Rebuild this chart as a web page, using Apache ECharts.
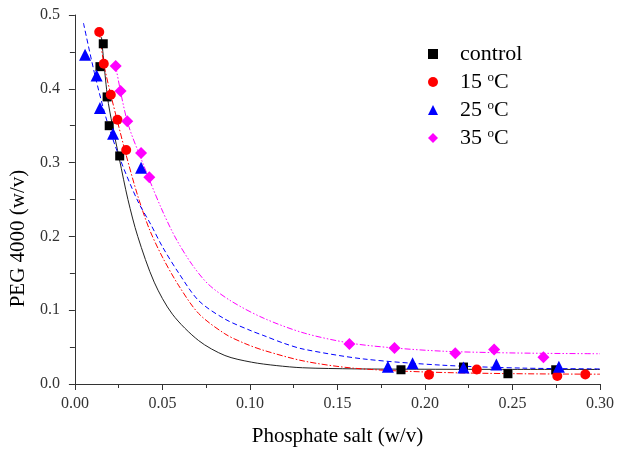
<!DOCTYPE html>
<html>
<head>
<meta charset="utf-8">
<script src="https://cdn.jsdelivr.net/npm/echarts@6/dist/echarts.min.js"></script>
<style>html,body{margin:0;padding:0;background:#fff}#c{width:617px;height:452px}</style>
</head>
<body>
<div id="c"></div>
<script>
// ---- data ----
const seriesNames = ['control', '15 °C', '25 °C', '35 °C'];

const controlX = [0.0162, 0.0143, 0.0184, 0.0196, 0.0256, 0.1863, 0.222, 0.2474, 0.2747];
const controlY = [0.461, 0.430, 0.389, 0.350, 0.309, 0.0193, 0.023, 0.0139, 0.0193];

const t15X = [0.0139, 0.0165, 0.0205, 0.0243, 0.0293, 0.2023, 0.2296, 0.2756, 0.2916];
const t15Y = [0.477, 0.434, 0.392, 0.358, 0.317, 0.0126, 0.0197, 0.0108, 0.013];

const t25X = [0.0058, 0.0124, 0.0143, 0.0218, 0.0378, 0.1788, 0.1929, 0.222, 0.2408, 0.2765];
const t25Y = [0.446, 0.418, 0.374, 0.339, 0.293, 0.0235, 0.028, 0.0225, 0.0265, 0.0235];

const t35X = [0.0233, 0.0261, 0.0299, 0.0378, 0.0425, 0.1568, 0.1826, 0.2173, 0.2395, 0.2677];
const t35Y = [0.431, 0.397, 0.356, 0.313, 0.280, 0.0543, 0.0489, 0.0417, 0.0467, 0.0363];

// fitted curves
const fitControlX = [0.0152, 0.0186, 0.0214, 0.0254, 0.0303, 0.0359, 0.0453, 0.0557, 0.0707, 0.0857, 0.1008, 0.115, 0.13, 0.16, 0.2, 0.25, 0.3];
const fitControlY = [0.470, 0.389, 0.351, 0.305, 0.250, 0.200, 0.138, 0.0946, 0.0588, 0.0386, 0.0296, 0.025, 0.022, 0.0205, 0.020, 0.0198, 0.0197];

const fit15X = [0.0140, 0.0165, 0.0205, 0.0243, 0.0293, 0.0359, 0.0425, 0.050, 0.0594, 0.0707, 0.0857, 0.097, 0.108, 0.131, 0.159, 0.2, 0.25, 0.3];
const fit15Y = [0.477, 0.434, 0.392, 0.356, 0.310, 0.255, 0.210, 0.172, 0.133, 0.0955, 0.068, 0.055, 0.0455, 0.031, 0.0215, 0.0163, 0.014, 0.0133];

const fit25X = [0.0049, 0.0115, 0.018, 0.0256, 0.0359, 0.0434, 0.05, 0.0594, 0.0707, 0.0857, 0.1008, 0.108, 0.1196, 0.131, 0.1647, 0.2098, 0.2566, 0.3];
const fit25Y = [0.489, 0.418, 0.359, 0.306, 0.248, 0.216, 0.186, 0.150, 0.113, 0.088, 0.072, 0.0655, 0.055, 0.047, 0.034, 0.0255, 0.0215, 0.0205];

const fit35X = [0.0233, 0.0299, 0.0387, 0.049, 0.0575, 0.0669, 0.0763, 0.0895, 0.108, 0.131, 0.157, 0.1816, 0.2098, 0.24, 0.27, 0.3];
const fit35Y = [0.431, 0.356, 0.300, 0.240, 0.198, 0.162, 0.135, 0.112, 0.089, 0.069, 0.0555, 0.049, 0.0445, 0.0425, 0.0415, 0.041];

// ---- build chart ----
const pairs = (xs, ys) => xs.map((x, i) => [x, ys[i]]);
const FONT = '"Liberation Serif", "Times New Roman", serif';

function scatter(name, xs, ys, symbol, size, color) {
  return { name, type: 'scatter', data: pairs(xs, ys), symbol, symbolSize: size,
    itemStyle: { color, opacity: 1 }, z: 5 };
}
function fit(name, xs, ys, color, type) {
  return { name, type: 'line', data: pairs(xs, ys), showSymbol: false, symbol: 'none',
    smooth: 0.3, silent: true, z: 3,
    lineStyle: { color, width: 1, type } };
}

const chart = echarts.init(document.getElementById('c'), null, { renderer: 'canvas' });
chart.setOption({
  animation: false,
  backgroundColor: '#fff',
  grid: { left: 68, right: 17, top: 15, bottom: 65, containLabel: false },
  legend: {
    data: seriesNames,
    orient: 'vertical',
    left: 423, top: 38,
    itemWidth: 10, itemHeight: 10, itemGap: 6,
    textStyle: {
      fontFamily: FONT, fontSize: 22, color: '#000', lineHeight: 22, padding: [0, 0, 0, 17],
      rich: { sup: { fontFamily: FONT, fontSize: 13, color: '#000', verticalAlign: 'top', lineHeight: 13 } }
    },
    formatter: n => n.replace('°', '{sup|o}')
  },
  xAxis: {
    type: 'value', min: 0, max: 0.3, interval: 0.05,
    name: 'Phosphate salt (w/v)', nameLocation: 'middle', nameGap: 42,
    nameTextStyle: { fontFamily: FONT, fontSize: 21, color: '#000' },
    axisLine: { show: true, lineStyle: { color: '#333', width: 1 } },
    axisTick: { show: true, inside: false, length: 6, lineStyle: { color: '#333' } },
    minorTick: { show: true, splitNumber: 2, length: 4, lineStyle: { color: '#333' } },
    splitLine: { show: false },
    axisLabel: { fontFamily: FONT, fontSize: 16, color: '#333', margin: 12, formatter: v => v.toFixed(2) }
  },
  yAxis: {
    type: 'value', min: 0, max: 0.5, interval: 0.1,
    name: 'PEG 4000 (w/v)', nameLocation: 'middle', nameGap: 23, nameRotate: 90,
    nameTextStyle: { fontFamily: FONT, fontSize: 21, color: '#000', padding: [0, 78, 0, 0] },
    axisLine: { show: true, lineStyle: { color: '#333', width: 1 } },
    axisTick: { show: true, inside: false, length: 6, lineStyle: { color: '#333' } },
    minorTick: { show: true, splitNumber: 2, length: 5, lineStyle: { color: '#333' } },
    splitLine: { show: false },
    axisLabel: { fontFamily: FONT, fontSize: 16, color: '#333', margin: 15, formatter: v => v.toFixed(1) }
  },
  series: [
    fit('fit control', fitControlX, fitControlY, '#222', 'solid'),
    fit('fit 15', fit15X, fit15Y, '#ff0000', [6, 2, 1.5, 2]),
    fit('fit 25', fit25X, fit25Y, '#0000ff', [5, 3]),
    fit('fit 35', fit35X, fit35Y, '#ff00ff', [6, 2, 1.5, 2, 1.5, 2]),
    scatter(seriesNames[0], controlX, controlY, 'rect', 9, '#000000'),
    scatter(seriesNames[1], t15X, t15Y, 'circle', 10, '#ff0000'),
    scatter(seriesNames[2], t25X, t25Y, 'triangle', 12, '#0000ff'),
    scatter(seriesNames[3], t35X, t35Y, 'diamond', 12, '#ff00ff')
  ]
});
</script>
</body>
</html>
